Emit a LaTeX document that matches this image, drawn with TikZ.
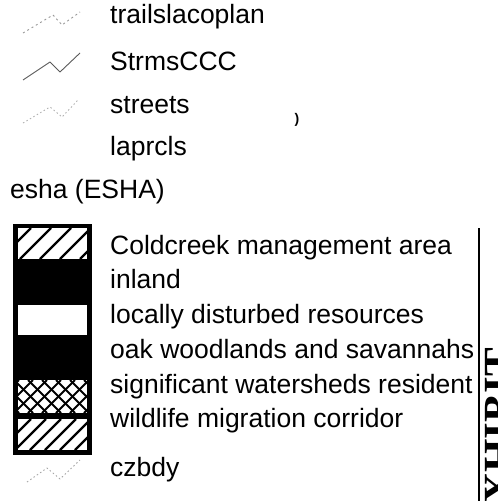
\documentclass[tikz,border=0pt]{standalone}
\usepackage{fontspec}
\setmainfont{Liberation Sans}
\newfontfamily\exhibitfont{Liberation Serif}
\begin{document}
\begin{tikzpicture}[x=1bp,y=-1bp,
  lbl/.style={anchor=base west, inner sep=0pt, font=\fontsize{26.5bp}{30bp}\selectfont},
  hatchline/.style={line width=2.4bp, line cap=butt},
  sample/.style={line width=0.9bp, line join=round},
]
\useasboundingbox (0,0) rectangle (498,501);

% line symbols
\draw[sample, gray!80, dash pattern=on 2bp off 3bp] (23,33) -- (53,15) -- (62,25) -- (80,12);
\draw[sample, black!65] (23,80) -- (50,62) -- (60,72) -- (80,53);
\draw[sample, gray!60, dash pattern=on 1.5bp off 2.5bp] (23,123) -- (50,107) -- (62,117) -- (78,100);

\node[lbl] (trails) at (110,24) {trailslacoplan};
\node[lbl] (strms) at (110,71) {StrmsCCC};
\node[lbl] (streets) at (110,114) {streets};
\node[inner sep=0pt, font=\bfseries\fontsize{14bp}{14bp}\selectfont] (paren) at (297,120) {)};
\node[lbl] (laprcls) at (110,156) {laprcls};
\node[lbl] (esha) at (10,199) {esha (ESHA)};

% area swatches: black frame with white patches
\fill[black] (13,224) rectangle (92,455);
\fill[white] (18,228) rectangle (87,259);
\fill[white] (18,305) rectangle (87,335);
\fill[white] (18,380) rectangle (87,413);
\fill[white] (18,419) rectangle (87,450);
\begin{scope}
  \clip (18,228) rectangle (87,259);
  \foreach \i in {-40,-20,...,100} \draw[hatchline] (\i,259) -- (\i+31,228);
\end{scope}
\begin{scope}
  \clip (18,380) rectangle (87,413);
  \foreach \i in {-42,-28,...,100} {
    \draw[line width=2bp] (\i,413) -- (\i+33,380);
    \draw[line width=2bp] (\i,380) -- (\i+33,413);
  }
\end{scope}
\begin{scope}
  \clip (18,419) rectangle (87,450);
  \foreach \i in {-45,-30,...,100} \draw[hatchline] (\i,450) -- (\i+31,419);
\end{scope}

\node[lbl] (cold) at (110,254) {Coldcreek management area};
\node[lbl] (inland) at (110,288) {inland};
\node[lbl] (local) at (110,323) {locally disturbed resources};
\node[lbl] (oak) at (110,358) {oak woodlands and savannahs};
\node[lbl] (sig) at (110,393) {significant watersheds resident};
\node[lbl] (wild) at (110,427) {wildlife migration corridor};

\draw[sample, gray!70, dash pattern=on 1.5bp off 2.5bp] (27,482) -- (47,468) -- (60,479) -- (80,460);
\node[lbl] (czbdy) at (110,476) {czbdy};

% exhibit stamp at the right edge
\draw[line width=1.1bp] (479,228) -- (479,501);
\node[rotate=90, anchor=north east, inner sep=0pt,
      font=\exhibitfont\bfseries\fontsize{43bp}{43bp}\selectfont] (exhibit) at (485,348) {EXHIBIT};
\end{tikzpicture}
\end{document}
